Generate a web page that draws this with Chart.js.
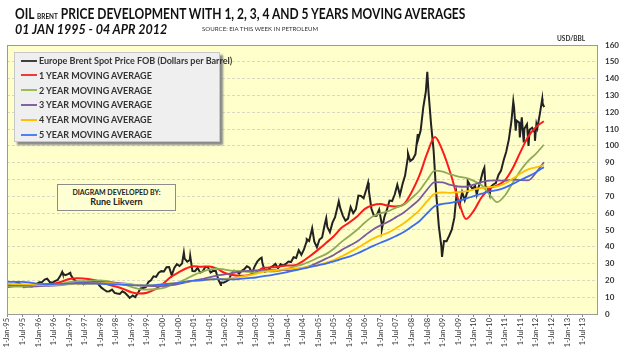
<!DOCTYPE html>
<html>
<head>
<meta charset="utf-8">
<script src="https://cdn.jsdelivr.net/npm/chart.js@4.4.1/dist/chart.umd.min.js"></script>
<style>
  body { margin: 0; background: #fff; font-family: Lato, sans-serif; color: #111; }
  #wrap { position: relative; width: 629px; height: 354px; overflow: hidden; }
  #oilChart { position: absolute; left: 0; top: 0; }
  .txt { position: absolute; white-space: nowrap; font-weight: bold; transform-origin: 0 0; }
  #title { left: 15px; top: 4px; font-size: 15px; }
  #title small { font-size: 8px; }
  #period { left: 15px; top: 21px; font-size: 13px; font-style: italic; }
  #source { left: 202px; top: 25px; font-size: 6.5px; font-weight: normal; color: #333; }
  #unit { left: 557px; top: 35px; font-size: 6.5px; color: #333; }
  #legend { position: absolute; left: 14px; top: 52px; width: 204px; height: 88px;
            background: #efefef; border: 1px solid #c8c8c8; box-shadow: 3px 3px 2px #8a8a8a; }
  .row { position: absolute; left: 6px; height: 13px; line-height: 13px; font-size: 9px; font-weight: bold; color: #333;
         white-space: nowrap; }
  .row i { display: inline-block; width: 16px; height: 2px; vertical-align: middle; margin-right: 2px; margin-top: -2px; }
  #credit { position: absolute; left: 57px; top: 184px; width: 117px; height: 25px;
            border: 1px solid #8c8c8c; background: #ffffd4; text-align: center; font-weight: bold; color: #222; }
  #credit .a { font-size: 7px; margin-top: 3px; }
  #credit .b { font-size: 9px; margin-top: 0px; }
</style>
</head>
<body>
<div id="wrap">
  <canvas id="oilChart" width="629" height="354"></canvas>
  <div class="txt" id="title">OIL <small>BRENT</small> PRICE DEVELOPMENT WITH 1, 2, 3, 4 AND 5 YEARS MOVING AVERAGES</div>
  <div class="txt" id="period">01 JAN 1995 - 04 APR 2012</div>
  <div class="txt" id="source">SOURCE: EIA THIS WEEK IN PETROLEUM</div>
  <div class="txt" id="unit">USD/BBL</div>
  <div id="legend"></div>
  <div id="credit"><div class="a">DIAGRAM DEVELOPED BY:</div><div class="b">Rune Likvern</div></div>
</div>
<script>
// Brent spot, monthly averages (USD/bbl), Jan 1995 - Mar 2012
const spotMonthly = [
  16.57,17.18,16.97,18.27,18.52,17.38,15.93,16.23,16.53,16.20,16.93,17.99,
  18.86,18.97,20.46,20.97,18.98,18.59,19.59,20.26,22.54,24.04,23.07,23.69,
  23.47,20.98,19.71,17.91,19.07,17.66,18.49,18.66,18.53,19.81,19.13,17.24,
  15.53,14.42,13.39,13.55,14.52,12.53,12.19,11.97,13.48,12.63,11.02,9.82,
  11.05,10.32,12.47,15.22,15.41,15.90,19.00,20.06,22.44,22.08,24.58,25.49,
  25.33,27.88,27.96,22.96,27.42,29.60,28.56,29.98,32.99,31.08,32.16,25.52,
  25.50,27.47,24.61,25.41,28.06,27.73,24.62,25.68,25.55,20.46,18.84,18.65,
  19.42,20.28,23.70,25.73,25.35,24.08,25.74,26.65,28.40,27.54,24.34,28.33,
  31.14,32.78,30.13,25.15,25.83,27.59,28.44,29.83,27.15,29.63,28.79,29.81,
  31.18,30.87,33.80,33.36,37.92,35.19,38.37,43.03,43.38,49.77,43.05,39.65,
  44.28,45.56,53.08,51.86,48.67,54.31,57.58,64.09,62.98,58.52,55.53,56.75,
  63.57,59.92,62.25,70.44,70.19,68.86,73.90,73.61,62.77,58.38,58.46,62.00,
  53.68,57.56,62.05,67.49,67.21,71.05,76.93,70.76,77.17,82.34,92.41,90.93,
  92.18,95.04,103.66,109.07,122.80,132.32,132.72,113.24,97.23,71.58,52.45,39.95,
  43.44,43.32,46.54,50.18,57.30,68.61,64.44,72.51,67.65,72.77,76.66,74.46,
  76.17,73.75,78.83,84.82,75.95,74.76,75.58,77.04,77.84,82.67,85.28,91.45,
  96.52,103.72,114.64,123.26,114.99,113.83,116.97,110.22,112.83,109.55,110.77,107.87,
  110.69,119.33,125.45
];

// weekly highs / lows that stand out in the picture
const spotExtremeDates = ['1996-10-10','1997-01-13','1998-12-10','1999-02-16','2000-09-07','2000-11-21',
  '2001-11-16','2003-03-07','2004-08-19','2004-10-22','2005-04-04','2005-08-30','2006-08-08',
  '2007-01-18','2007-11-20','2008-03-13','2008-07-03','2008-12-24','2009-06-11','2009-10-21',
  '2010-02-05','2010-05-03','2010-07-06','2011-01-31','2011-04-08','2011-05-06','2011-06-24',
  '2011-08-09','2011-10-04','2011-12-19','2012-01-05','2012-03-13','2012-04-04'];
const spotExtremeValues = [25.0,24.5,9.6,9.9,36.5,34.5,
  17.2,33.5,44.5,51.0,57.0,67.0,78.0,
  50.5,95.5,107.0,144.0,34.0,71.0,79.0,
  71.0,87.0,71.0,100.0,126.5,109.0,105.0,
  102.0,100.0,103.0,113.0,128.0,123.0];

// moving averages, quarterly readings from 1 Jan 1995 to 1 Apr 2012
const ma1Year = [15.88,16.63,17.12,16.90,17.06,17.69,18.05,19.20,20.84,21.33,21.00,20.44,
  19.22,17.49,16.32,14.82,12.92,12.13,12.63,14.61,17.84,21.78,24.57,27.07,
  28.46,28.16,28.26,26.95,24.38,23.21,22.72,23.12,24.94,27.49,27.76,28.15,
  28.86,29.01,31.33,34.61,38.30,42.22,46.25,51.24,54.43,58.00,62.56,64.69,
  65.36,64.32,64.01,65.23,72.46,82.26,95.47,105.33,96.86,83.72,68.05,56.50,
  61.49,69.45,74.40,76.56,79.52,86.69,96.41,105.54,111.27,114.65];
const ma2Year = [16.45,16.29,16.23,16.19,16.47,17.16,17.59,18.05,18.95,19.51,19.53,19.82,
  20.03,19.41,18.66,17.63,16.07,14.81,14.47,14.71,15.38,16.96,18.60,20.84,
  23.15,24.97,26.41,27.01,26.42,25.68,25.49,25.04,24.66,25.35,25.24,25.64,
  26.90,28.25,29.54,31.38,33.58,35.61,38.79,42.93,46.37,50.11,54.40,57.97,
  59.90,61.16,63.28,64.96,68.91,73.29,79.74,85.28,84.66,82.99,81.76,80.92,
  79.17,76.59,71.22,66.53,70.50,78.07,85.40,91.05,95.39,100.67];
const ma3Year = [17.41,17.33,17.18,16.85,16.65,16.76,16.84,17.19,17.92,18.55,18.72,18.85,
  19.04,18.83,18.46,18.15,17.66,16.98,16.65,16.62,16.66,17.13,17.84,18.83,
  19.74,20.69,21.82,22.88,23.56,24.38,25.18,25.71,25.93,26.28,26.24,26.07,
  26.06,26.57,27.27,28.63,30.70,32.90,35.11,38.00,40.53,43.08,46.71,50.18,
  52.70,54.85,57.61,60.39,64.09,68.20,74.01,78.42,78.23,76.77,75.84,75.69,
  76.94,78.48,79.31,79.46,79.29,79.95,79.62,79.53,84.09,90.26];
const ma4Year = [18.07,17.84,17.80,17.57,17.32,17.42,17.40,17.44,17.70,17.90,17.88,18.00,
  18.25,18.28,18.12,17.84,17.51,17.16,17.00,17.27,17.70,18.18,18.63,19.23,
  19.61,19.89,20.44,20.86,20.90,21.32,22.04,22.94,23.90,25.16,25.82,26.32,
  26.66,26.96,27.52,28.21,29.12,30.48,32.01,34.28,36.63,39.18,41.97,44.67,
  46.74,48.39,51.04,53.94,57.64,61.70,67.07,71.62,72.28,72.08,72.52,72.94,
  74.04,74.94,75.48,75.90,77.58,80.53,83.58,85.98,87.28,88.63];
const ma5Year = [19.21,19.07,19.15,18.66,17.87,17.81,17.85,17.89,18.02,18.20,18.12,18.04,
  18.00,17.82,17.57,17.37,17.18,17.05,17.02,17.19,17.58,18.08,18.51,19.23,
  19.85,20.18,20.55,20.78,20.56,20.55,20.90,21.31,21.71,22.55,23.18,23.98,
  24.89,25.93,26.93,27.98,28.99,30.01,31.26,32.81,34.18,35.98,38.12,40.36,
  42.38,44.21,46.38,48.78,51.88,55.16,59.92,64.22,65.48,66.11,67.27,68.60,
  70.12,71.55,72.90,73.66,75.14,77.29,79.67,81.83,84.32,87.36];

const seriesLabels = ['Europe Brent Spot Price FOB (Dollars per Barrel)', '1 YEAR MOVING AVERAGE',
  '2 YEAR MOVING AVERAGE', '3 YEAR MOVING AVERAGE', '4 YEAR MOVING AVERAGE', '5 YEAR MOVING AVERAGE'];
const seriesColors = ['#222222', '#ff1a1a', '#8fac55', '#7a5c9c', '#ffc000', '#3b6cf2'];
const legendColors = ['#404040', '#f03a3a', '#9bbb59', '#8064a2', '#ffc000', '#4f81f0'];

const xTickLabels = [];
for (let y = 1995; y <= 2013; y++) {
  const yy = String(y).slice(2);
  xTickLabels.push('1-Jan-' + yy, '1-Jul-' + yy);
}
const xTickMonths = xTickLabels.map((l, i) => i * 6);

// months since 1 Jan 1995
function toMonths(s) {
  const p = s.split('-').map(Number);
  return (p[0] - 1995) * 12 + (p[1] - 1) + (p[2] - 1) / 31;
}

let spotPoints = spotMonthly.map((v, i) => ({ x: i + 0.5, y: v }));
spotExtremeDates.forEach((d, i) => spotPoints.push({ x: toMonths(d), y: spotExtremeValues[i] }));
spotPoints.sort((a, b) => a.x - b.x);

const maSeries = [ma1Year, ma2Year, ma3Year, ma4Year, ma5Year];
const datasets = [{
  label: seriesLabels[0], data: spotPoints, borderColor: seriesColors[0],
  borderWidth: 2, pointRadius: 0, tension: 0, order: 10
}];
maSeries.forEach((arr, k) => {
  datasets.push({
    label: seriesLabels[k + 1], data: arr.map((v, i) => ({ x: i * 3, y: v })),
    borderColor: seriesColors[k + 1], borderWidth: k === 0 ? 2 : 1.8, pointRadius: 0,
    cubicInterpolationMode: 'monotone', order: 5 - k
  });
});

// legend in html
const legend = document.getElementById('legend');
seriesLabels.forEach((l, i) => {
  const r = document.createElement('div');
  r.className = 'row';
  r.style.top = (1 + i * 14.8) + 'px';
  r.innerHTML = '<i style="background:' + legendColors[i] + '"></i>' + l;
  legend.appendChild(r);
});

const plotBox = {
  id: 'plotBox',
  beforeDraw(chart) {
    const { ctx, chartArea: a } = chart;
    ctx.save();
    ctx.fillStyle = '#ffffcc';
    ctx.fillRect(a.left, a.top, a.right - a.left, a.bottom - a.top);
    ctx.restore();
  },
  afterDraw(chart) {
    const { ctx, chartArea: a } = chart;
    ctx.save();
    ctx.strokeStyle = '#9a9a9a';
    ctx.lineWidth = 1;
    ctx.strokeRect(a.left + 0.5, a.top + 0.5, a.right - a.left, a.bottom - a.top);
    ctx.restore();
  }
};

const tickFont = { family: 'Lato, sans-serif', size: 7.5 };

new Chart(document.getElementById('oilChart').getContext('2d'), {
  type: 'line',
  data: { datasets: datasets },
  options: {
    responsive: false,
    animation: false,
    layout: { padding: { top: 45, left: 7, right: 0, bottom: 0 } },
    plugins: { legend: { display: false }, tooltip: { enabled: false } },
    scales: {
      x: {
        type: 'linear', min: 0, max: 227.5,
        afterBuildTicks: axis => { axis.ticks = xTickMonths.map(v => ({ value: v })); },
        afterFit: s => { s.height = 40; },
        ticks: { autoSkip: false, minRotation: 90, maxRotation: 90, padding: 1, color: '#333', font: tickFont,
                 callback: (v, i) => xTickLabels[i] },
        grid: { drawOnChartArea: false, drawTicks: true, tickLength: 3, color: '#8a8a8a' },
        border: { color: '#9a9a9a' }
      },
      y: {
        position: 'right', min: 0, max: 160,
        afterFit: s => { s.width = 32; },
        ticks: { stepSize: 10, padding: 8, color: '#333', font: { family: 'Lato, sans-serif', size: 8, weight: 'bold' } },
        grid: { color: '#d9d9c4', drawTicks: false },
        border: { color: '#9a9a9a', dash: [3, 2] }
      }
    }
  },
  plugins: [plotBox]
});

// stretch header texts to the width they have in the original
function fitWidth(id, w) {
  const el = document.getElementById(id);
  el.style.transform = 'scaleX(' + (w / el.offsetWidth) + ')';
}
fitWidth('title', 450);
fitWidth('period', 152);
fitWidth('source', 116);
</script>
</body>
</html>
